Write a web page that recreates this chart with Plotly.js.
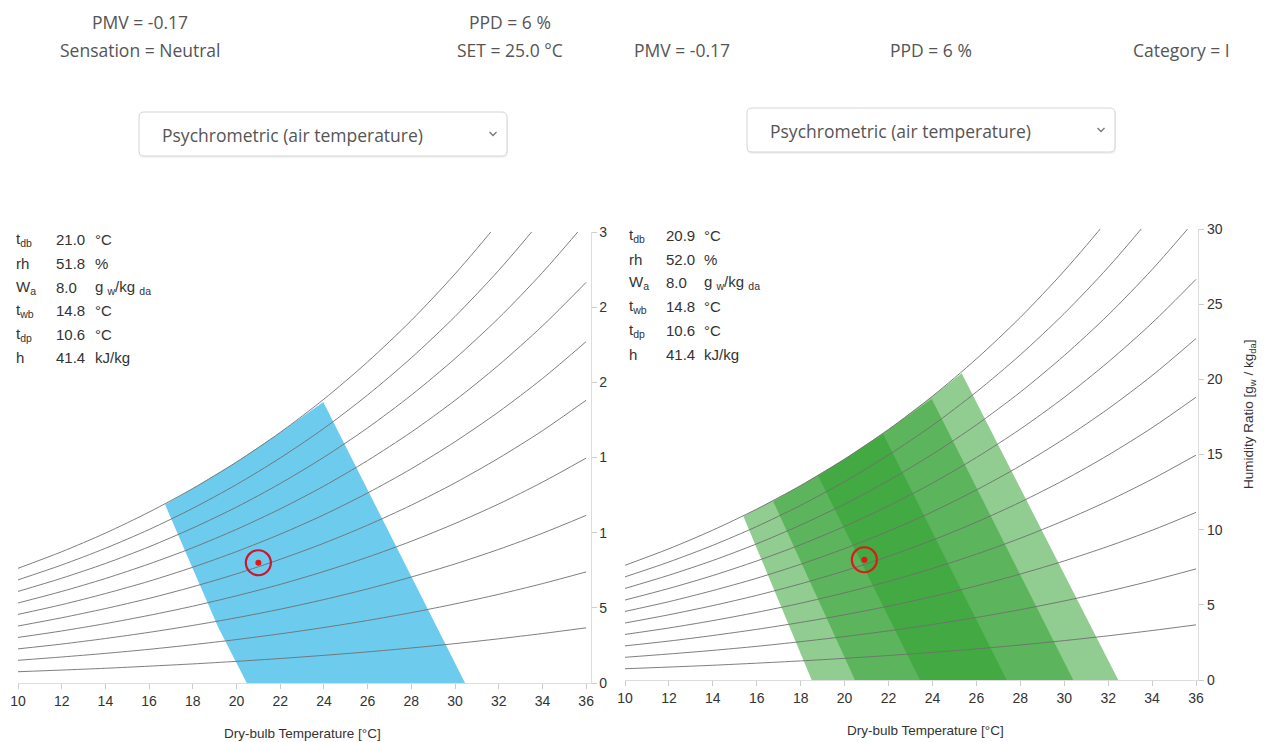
<!DOCTYPE html>
<html>
<head>
<meta charset="utf-8">
<script src="https://cdn.plot.ly/plotly-3.0.1.min.js"></script>
<style>
  html, body { margin: 0; padding: 0; background: #ffffff; }
  #chart { width: 1266px; height: 742px; }
</style>
</head>
<body>
<div id="chart"></div>
<script>
// ---------------- DATA ----------------
// Dry-bulb temperatures (°C) at which the relative-humidity curves are sampled
const dryBulb = [10, 12, 14, 16, 18, 20, 22, 24, 26, 28, 30, 32, 34, 36];
// Humidity ratio (g/kg) along each relative-humidity line
const rh10  = [0.75, 0.86, 0.98, 1.12, 1.27, 1.44, 1.63, 1.84, 2.07, 2.33, 2.62, 2.94, 3.29, 3.67];
const rh20  = [1.51, 1.73, 1.97, 2.24, 2.55, 2.89, 3.27, 3.69, 4.16, 4.68, 5.26, 5.90, 6.61, 7.39];
const rh30  = [2.27, 2.59, 2.96, 3.37, 3.83, 4.34, 4.91, 5.55, 6.26, 7.05, 7.92, 8.89, 9.96, 11.15];
const rh40  = [3.03, 3.46, 3.95, 4.50, 5.11, 5.80, 6.56, 7.42, 8.37, 9.43, 10.61, 11.91, 13.36, 14.96];
const rh50  = [3.79, 4.34, 4.95, 5.63, 6.40, 7.26, 8.23, 9.30, 10.50, 11.83, 13.31, 14.96, 16.78, 18.81];
const rh60  = [4.56, 5.21, 5.95, 6.77, 7.70, 8.74, 9.90, 11.19, 12.64, 14.25, 16.05, 18.04, 20.25, 22.71];
const rh70  = [5.32, 6.09, 6.95, 7.92, 9.00, 10.22, 11.58, 13.10, 14.80, 16.69, 18.80, 21.15, 23.75, 26.65];
const rh80  = [6.09, 6.97, 7.95, 9.06, 10.31, 11.70, 13.27, 15.02, 16.97, 19.15, 21.58, 24.28, 27.30, 30.65];
const rh90  = [6.86, 7.85, 8.96, 10.21, 11.62, 13.20, 14.97, 16.94, 19.16, 21.63, 24.38, 27.45, 30.88, 34.69];
const rh100 = [7.63, 8.73, 9.97, 11.37, 12.94, 14.70, 16.67, 18.88, 21.36, 24.12, 27.21, 30.65, 34.50, 38.79];
const rhCurves = [rh10, rh20, rh30, rh40, rh50, rh60, rh70, rh80, rh90, rh100];

// Left chart: PMV comfort zone (polygon vertices)
const zoneT = [16.73, 18.0, 20.0, 22.0, 23.97, 30.46, 20.47, 19.15, 17.49, 16.73];
const zoneW = [11.87, 12.94, 14.70, 16.67, 18.70, 0, 0, 3.75, 9.31, 11.87];

// Right chart: category zones (III outer, II middle, I inner)
const catIIIT = [15.39, 16.0, 18.0, 20.0, 22.0, 24.0, 25.33, 32.46, 18.50, 15.39];
const catIIIW = [10.90, 11.37, 12.94, 14.70, 16.67, 18.88, 20.40, 0, 0, 10.90];
const catIIT  = [16.75, 18.0, 20.0, 22.0, 23.97, 30.41, 20.47, 16.75];
const catIIW  = [11.88, 12.94, 14.70, 16.67, 18.70, 0, 0, 11.88];
const catIT   = [18.80, 20.0, 21.76, 27.38, 23.43, 18.80];
const catIW   = [13.55, 14.70, 16.35, 0, 0, 13.55];

// Current state points
const leftPointT = [21.0],  leftPointW = [8.0];
const rightPointT = [20.9], rightPointW = [8.0];

// Tick labels
const xTicks = [10, 12, 14, 16, 18, 20, 22, 24, 26, 28, 30, 32, 34, 36];
const yTicks = [0, 5, 10, 15, 20, 25, 30];
const yTickTextLeft  = ['0', '5', '1', '1', '2', '2', '3'];   // clipped labels as shown
const yTickTextRight = ['0', '5', '10', '15', '20', '25', '30'];

// Info tables
const infoLabels = ['t<sub>db</sub>', 'rh', 'W<sub>a</sub>', 't<sub>wb</sub>', 't<sub>dp</sub>', 'h'];
const infoUnits  = ['°C', '%', 'g <sub>w</sub>/kg <sub>da</sub>', '°C', '°C', 'kJ/kg'];
const infoLeft   = ['21.0', '51.8', '8.0', '14.8', '10.6', '41.4'];
const infoRight  = ['20.9', '52.0', '8.0', '14.8', '10.6', '41.4'];

// ---------------- HELPERS ----------------
const FW = 1266, FH = 742;
const px = x => x / FW;
const py = y => 1 - y / FH;

const traces = [];

// polygons first
traces.push({x: zoneT, y: zoneW, xaxis: 'x', yaxis: 'y', type: 'scatter', mode: 'lines',
  fill: 'toself', fillcolor: '#6dcbee', line: {width: 0, color: 'rgba(0,0,0,0)'}, hoverinfo: 'skip'});
[[catIIIT, catIIIW], [catIIT, catIIW], [catIT, catIW]].forEach(([t, w]) => {
  traces.push({x: t, y: w, xaxis: 'x2', yaxis: 'y2', type: 'scatter', mode: 'lines',
    fill: 'toself', fillcolor: 'rgba(44,160,44,0.52)', line: {width: 0, color: 'rgba(0,0,0,0)'}, hoverinfo: 'skip'});
});

// RH curves on both charts
[['x', 'y'], ['x2', 'y2']].forEach(([xa, ya]) => {
  rhCurves.forEach(w => {
    traces.push({x: dryBulb, y: w, xaxis: xa, yaxis: ya, type: 'scatter', mode: 'lines',
      line: {color: '#6f6f6f', width: 0.9, shape: 'spline', smoothing: 0.8}, hoverinfo: 'skip'});
  });
});

// markers
[[leftPointT, leftPointW, 'x', 'y', '#cc1530'], [rightPointT, rightPointW, 'x2', 'y2', '#e01818']].forEach(([t, w, xa, ya, c]) => {
  traces.push({x: t, y: w, xaxis: xa, yaxis: ya, type: 'scatter', mode: 'markers',
    marker: {symbol: 'circle-open', size: 25, color: c, line: {width: 2.2, color: c}}, hoverinfo: 'skip'});
  traces.push({x: t, y: w, xaxis: xa, yaxis: ya, type: 'scatter', mode: 'markers',
    marker: {symbol: 'circle', size: 6, color: '#ee1111'}, hoverinfo: 'skip'});
});

const tickFont = {family: 'Liberation Sans, Arial, sans-serif', size: 14, color: '#333'};
const xBase = {range: [10, 36.2], tickmode: 'array', tickvals: xTicks, ticks: 'outside', ticklen: 5,
  tickcolor: '#cccccc', showline: true, linecolor: '#dddddd', linewidth: 1, showgrid: false,
  zeroline: false, tickfont: tickFont, fixedrange: true};
const yBase = {range: [0, 30], side: 'right', tickmode: 'array', tickvals: yTicks, ticks: 'outside',
  ticklen: 5, tickcolor: '#cccccc', showline: true, linecolor: '#dddddd', linewidth: 1,
  showgrid: false, zeroline: false, tickfont: tickFont, fixedrange: true};

const annFont = {family: 'Open Sans, sans-serif', size: 17.5, color: '#555'};
const infoFont = {family: 'Liberation Sans, Arial, sans-serif', size: 15, color: '#333'};
const annotations = [];
function ann(x, y, text, font, xanchor, extra) {
  annotations.push(Object.assign({xref: 'paper', yref: 'paper', x: px(x), y: py(y), text: text,
    showarrow: false, xanchor: xanchor || 'center', yanchor: 'middle', font: font}, extra || {}));
}
// header texts
ann(140, 22, 'PMV = -0.17', annFont);
ann(140, 50, 'Sensation = Neutral', annFont);
ann(510, 22, 'PPD = 6 %', annFont);
ann(510, 50, 'SET = 25.0 °C', annFont);
ann(682, 50, 'PMV = -0.17', annFont);
ann(931, 50, 'PPD = 6 %', annFont);
ann(1181, 50, 'Category = I', annFont);
// dropdown texts
ann(160, 135, 'Psychrometric (air temperature)', annFont, 'left');
ann(768, 131, 'Psychrometric (air temperature)', annFont, 'left');

// info tables
const rowsL = [240, 263.5, 287, 310.5, 334, 357.5];
const rowsR = [235, 259, 283, 306.5, 330, 354];
infoLabels.forEach((lab, i) => {
  ann(14, rowsL[i], lab, infoFont, 'left');
  ann(54, rowsL[i], infoLeft[i], infoFont, 'left');
  ann(93, rowsL[i], infoUnits[i], infoFont, 'left');
  ann(627, rowsR[i], lab, infoFont, 'left');
  ann(664, rowsR[i], infoRight[i], infoFont, 'left');
  ann(702, rowsR[i], infoUnits[i], infoFont, 'left');
});

// axis titles
const titleFont = {family: 'Liberation Sans, Arial, sans-serif', size: 13.5, color: '#333'};
ann(302, 733, 'Dry-bulb Temperature [°C]', titleFont);
ann(925, 730, 'Dry-bulb Temperature [°C]', titleFont);
ann(1249, 415, 'Humidity Ratio [g<sub>w</sub> / kg<sub>da</sub>]', titleFont, 'center', {textangle: -90});

// dropdown shapes
function rr(x0, y0, x1, y1, r) {
  const P = (x, y) => px(x) + ',' + py(y);
  return 'M' + P(x0 + r, y0) + ' L' + P(x1 - r, y0) + ' Q' + P(x1, y0) + ' ' + P(x1, y0 + r) +
    ' L' + P(x1, y1 - r) + ' Q' + P(x1, y1) + ' ' + P(x1 - r, y1) +
    ' L' + P(x0 + r, y1) + ' Q' + P(x0, y1) + ' ' + P(x0, y1 - r) +
    ' L' + P(x0, y0 + r) + ' Q' + P(x0, y0) + ' ' + P(x0 + r, y0) + ' Z';
}
function chevron(cx, cy) {
  const P = (x, y) => px(x) + ',' + py(y);
  return 'M' + P(cx - 3.5, cy - 2) + ' L' + P(cx, cy + 1.5) + ' L' + P(cx + 3.5, cy - 2);
}
const shapes = [
  {type: 'path', xref: 'paper', yref: 'paper', path: rr(139, 114, 508, 158, 5), fillcolor: 'rgba(0,0,0,0.05)', line: {width: 0}},
  {type: 'path', xref: 'paper', yref: 'paper', path: rr(139, 112, 507, 156, 5), fillcolor: '#ffffff', line: {color: '#d4d4d4', width: 1}},
  {type: 'path', xref: 'paper', yref: 'paper', path: chevron(493, 134), line: {color: '#777', width: 1.3}},
  {type: 'path', xref: 'paper', yref: 'paper', path: rr(747, 110, 1116, 154, 5), fillcolor: 'rgba(0,0,0,0.05)', line: {width: 0}},
  {type: 'path', xref: 'paper', yref: 'paper', path: rr(747, 108, 1115, 152, 5), fillcolor: '#ffffff', line: {color: '#d4d4d4', width: 1}},
  {type: 'path', xref: 'paper', yref: 'paper', path: chevron(1101, 130), line: {color: '#777', width: 1.3}}
];

const layout = {
  width: FW, height: FH,
  margin: {l: 0, r: 0, t: 0, b: 0},
  paper_bgcolor: '#ffffff', plot_bgcolor: 'rgba(0,0,0,0)',
  showlegend: false,
  xaxis: Object.assign({}, xBase, {domain: [px(18), px(590.5)], anchor: 'y'}),
  yaxis: Object.assign({}, yBase, {domain: [py(683), py(232)], anchor: 'x', ticktext: yTickTextLeft}),
  xaxis2: Object.assign({}, xBase, {range: [10, 36.1], domain: [px(625), px(1198.2)], anchor: 'y2'}),
  yaxis2: Object.assign({}, yBase, {domain: [py(680), py(229)], anchor: 'x2', ticktext: yTickTextRight}),
  annotations: annotations,
  shapes: shapes
};

Plotly.newPlot('chart', traces, layout, {displayModeBar: false, staticPlot: true});
</script>
</body>
</html>
